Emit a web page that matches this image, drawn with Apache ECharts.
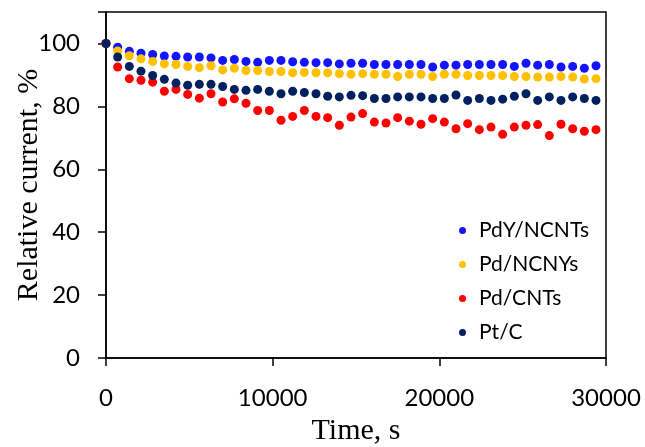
<!DOCTYPE html>
<html>
<head>
<meta charset="utf-8">
<script src="https://cdn.jsdelivr.net/npm/echarts@6/dist/echarts.min.js"></script>
<style>
html,body{margin:0;padding:0;background:#fff;}
#chart{width:645px;height:447px;}
</style>
</head>
<body>
<div id="chart"></div>
<script>
var times = [0,700,1400,2100,2800,3500,4200,4900,5600,6300,7000,7700,8400,9100,9800,10500,11200,11900,12600,13300,14000,14700,15400,16100,16800,17500,18200,18900,19600,20300,21000,21700,22400,23100,23800,24500,25200,25900,26600,27300,28000,28700,29400];

var pdyNCNTs = [100,98.8,97.5,96.9,96.5,96.0,95.9,95.7,95.7,95.4,94.6,94.9,94.3,94.0,94.6,94.6,94.2,94.0,93.9,93.9,93.5,93.7,93.7,93.3,93.3,93.3,93.3,93.3,92.5,93.1,93.1,93.3,93.3,93.3,93.3,92.7,93.7,93.1,93.3,92.5,92.7,92.1,92.9];

var pdNCNYs = [100,97.6,96.1,95.1,94.3,93.5,93.3,92.7,92.3,92.9,91.6,92.1,91.4,91.4,91.1,91.1,90.7,90.8,90.7,90.7,90.4,90.2,90.4,90.2,90.2,89.5,90.2,90.2,89.5,90.2,90.2,89.8,89.8,89.8,89.8,89.5,89.5,89.3,89.3,89.5,89.3,88.7,88.8];

var pdCNTs = [100,92.5,88.8,88.3,87.7,84.8,85.4,83.8,82.6,84.0,81.4,82.4,81.0,78.7,78.7,75.6,76.8,78.7,76.8,76.4,74.0,76.6,77.7,75.0,74.7,76.4,75.3,74.3,76.1,75.0,72.9,74.5,72.6,73.4,71.1,73.4,74.0,74.2,70.7,74.3,72.9,72.1,72.6];

var ptC = [100,95.7,92.7,91.2,89.8,88.6,87.4,86.7,87.0,87.0,86.3,85.4,85.1,85.4,84.8,84.0,84.8,84.4,84.0,83.2,83.0,83.5,83.4,82.5,82.5,83.0,83.0,83.0,82.5,82.5,83.6,81.9,82.5,81.9,82.3,83.2,84.0,81.9,83.0,81.9,83.0,82.5,81.9];

var seriesNames = ['PdY/NCNTs','Pd/NCNYs','Pd/CNTs','Pt/C'];
var seriesValues = [pdyNCNTs, pdNCNYs, pdCNTs, ptC];
var seriesColors = ['#1414FF','#FFC000','#FF0000','#002060'];

var yTickLabels = [0,20,40,60,80,100];
var xTickLabels = [0,10000,20000,30000];

function pairs(xs, ys){
  var out = [];
  for (var i = 0; i < xs.length; i++) out.push([xs[i], ys[i]]);
  return out;
}

var chart = echarts.init(document.getElementById('chart'), null, {renderer:'canvas'});
var labelFont = 'Lato';
chart.setOption({
  backgroundColor:'#ffffff',
  animation:false,
  grid:{left:106,right:39,top:12,bottom:89,show:true,borderColor:'#000',borderWidth:1.5,
        backgroundColor:'transparent',containLabel:false,outerBoundsMode:'none'},
  legend:{
    orient:'vertical',
    left:459, top:220,
    padding:0,
    itemGap:13,
    itemWidth:7, itemHeight:7,
    icon:'circle',
    textStyle:{fontFamily:labelFont,fontSize:21,color:'#000',padding:[0,0,0,8]},
    data:seriesNames
  },
  xAxis:{
    type:'value',min:0,max:30000,interval:10000,
    name:'Time, s',nameLocation:'middle',nameGap:58,nameMoveOverlap:false,
    nameTextStyle:{fontFamily:'Liberation Serif',fontSize:30,color:'#000'},
    axisLine:{show:true,lineStyle:{color:'#000',width:1.5}},
    axisTick:{show:true,length:8,lineStyle:{color:'#000',width:1.5}},
    axisLabel:{fontFamily:labelFont,fontSize:24,color:'#000',margin:28,
      formatter:function(v){return xTickLabels.indexOf(v)>=0?String(v):'';}},
    splitLine:{show:false}
  },
  yAxis:{
    type:'value',min:0,max:110,interval:20,
    name:'Relative current, %',nameLocation:'middle',nameGap:62,nameRotate:90,nameMoveOverlap:false,
    nameTextStyle:{fontFamily:'Liberation Serif',fontSize:30,color:'#000'},
    axisLine:{show:true,lineStyle:{color:'#000',width:1.5}},
    axisTick:{show:true,length:8,lineStyle:{color:'#000',width:1.5}},
    axisLabel:{fontFamily:labelFont,fontSize:24,color:'#000',margin:26,
      formatter:function(v){return yTickLabels.indexOf(v)>=0?String(v):'';}},
    splitLine:{show:false}
  },
  series: seriesNames.map(function(n,i){
    return {
      name:n,type:'scatter',symbol:'circle',symbolSize:9,
      itemStyle:{color:seriesColors[i],opacity:1},
      data:pairs(times, seriesValues[i])
    };
  })
});
</script>
</body>
</html>
